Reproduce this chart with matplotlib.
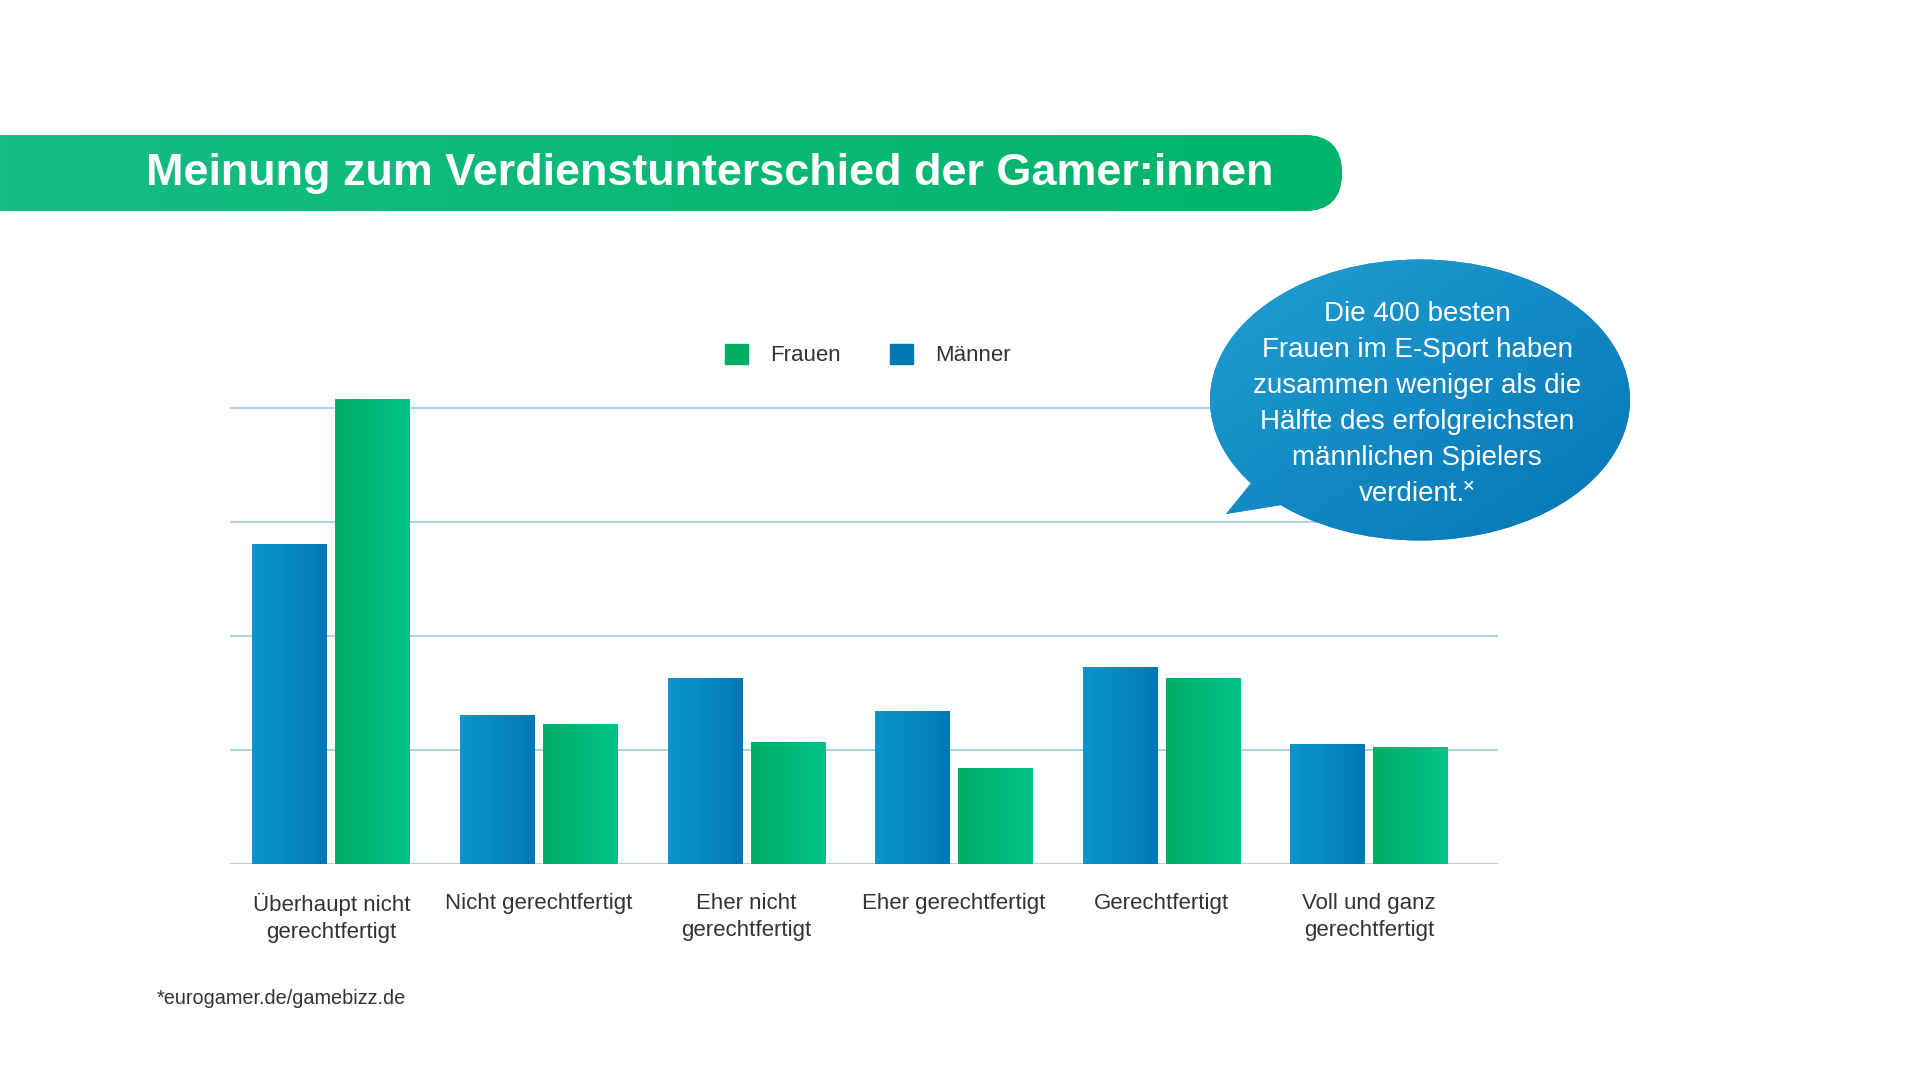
import numpy as np
import matplotlib
matplotlib.use("Agg")
import matplotlib.pyplot as plt
from matplotlib.colors import LinearSegmentedColormap
from matplotlib.patches import FancyBboxPatch, Ellipse, Polygon, Patch

plt.rcParams['font.family'] = ['Liberation Sans', 'DejaVu Sans']

# data (Anteil in %)
kategorien = ["Überhaupt nicht\ngerechtfertigt", "Nicht gerechtfertigt", "Eher nicht\ngerechtfertigt",
              "Eher gerechtfertigt", "Gerechtfertigt", "Voll und ganz\ngerechtfertigt"]
maenner = [28.1, 13.1, 16.3, 13.4, 17.3, 10.5]
frauen = [40.8, 12.3, 10.7, 8.4, 16.3, 10.3]
gitter = [0, 10, 20, 30, 40]

titel = "Meinung zum Verdienstunterschied der Gamer:innen"
blase = ("Die 400 besten\nFrauen im E-Sport haben\nzusammen weniger als die\n"
         "Hälfte des erfolgreichsten\nmännlichen Spielers\nverdient.˟")
quelle = "*eurogamer.de/gamebizz.de"

blau = ("#0a97cd", "#0078b5")
gruen = ("#02ad63", "#00c48a")
textfarbe = "#333333"


def gradient_fill(ax, patch, c1, c2, extent, diagonal=False, z=3):
    cmap = LinearSegmentedColormap.from_list("g", [c1, c2])
    if diagonal:
        xx, yy = np.meshgrid(np.linspace(0, 1, 200), np.linspace(0, 1, 200))
        grad = (xx + yy) / 2
    else:
        grad = np.linspace(0, 1, 256).reshape(1, -1)
    im = ax.imshow(grad, cmap=cmap, extent=extent, aspect="auto", zorder=z,
                   interpolation="bilinear")
    im.set_clip_path(patch)


fig = plt.figure(figsize=(19.2, 10.8), dpi=100)
fig.patch.set_facecolor("white")

# chart
ax = fig.add_axes([230 / 1920, 216 / 1080, 1268 / 1920, 478.8 / 1080])
x = np.arange(len(kategorien))
bw = 0.361
b1 = ax.bar(x - 0.2, maenner, bw, color=blau[1], zorder=3)
b2 = ax.bar(x + 0.2, frauen, bw, color=gruen[1], zorder=3)
for bars, cols in ((b1, blau), (b2, gruen)):
    for b in bars:
        x0, y0 = b.get_xy()
        gradient_fill(ax, b, cols[0], cols[1], [x0, x0 + b.get_width(), y0, y0 + b.get_height()])

for g in gitter:
    ax.axhline(g, color="#a6cfe5", lw=1.3, zorder=1)

ax.set_xlim(-0.488, 5.62)
ax.set_ylim(0, 42)
ax.set_xticks(x)
ax.set_xticklabels(kategorien, fontsize=16, color=textfarbe, linespacing=1.35)
ax.tick_params(axis="x", length=0, pad=21)
ax.set_yticks([])
for s in ax.spines.values():
    s.set_visible(False)
ax.set_facecolor("none")

fig.legend(handles=[Patch(color=gruen[0], label="Frauen"), Patch(color=blau[1], label="Männer")],
           loc="center", bbox_to_anchor=(868 / 1920, 1 - 355 / 1080), ncol=2, frameon=False,
           fontsize=16, handlelength=1.05, handleheight=1.05, handletextpad=1.0,
           columnspacing=2.2, borderpad=0, labelcolor=textfarbe)

# overlay in pixel coordinates for banner and speech bubble
ov = fig.add_axes([0, 0, 1, 1], zorder=5)
ov.set_xlim(0, 1920)
ov.set_ylim(1080, 0)
ov.axis("off")

banner = FancyBboxPatch((-100, 135), 1442, 76, boxstyle="round,pad=0,rounding_size=38",
                        facecolor="#0bb877", edgecolor="none")
ov.add_patch(banner)
gradient_fill(ov, banner, "#14bd83", "#02b46b", [0, 1342, 211, 135], z=2)
ov.text(710, 173, titel, color="white", fontsize=32.4, fontweight="bold", ha="center", va="center", zorder=6)

ell = Ellipse((1420, 400), 420, 281, facecolor="#148bc4", edgecolor="none")
tail = Polygon([(1226, 514), (1265, 466), (1312, 500)], closed=True, facecolor="#148bc4", edgecolor="none")
ov.add_patch(ell)
ov.add_patch(tail)
for p in (ell, tail):
    gradient_fill(ov, p, "#22a0d4", "#0474b3", [1205, 1635, 545, 255], diagonal=True, z=2)
ov.text(1417, 404, blase, color="white", fontsize=20, ha="center", va="center",
        linespacing=1.5, zorder=6)

ov.text(157, 998, quelle, color=textfarbe, fontsize=14.3, ha="left", va="center")

ov.set_xlim(0, 1920)
ov.set_ylim(1080, 0)

fig.savefig("out.png", dpi=100, facecolor="white")
